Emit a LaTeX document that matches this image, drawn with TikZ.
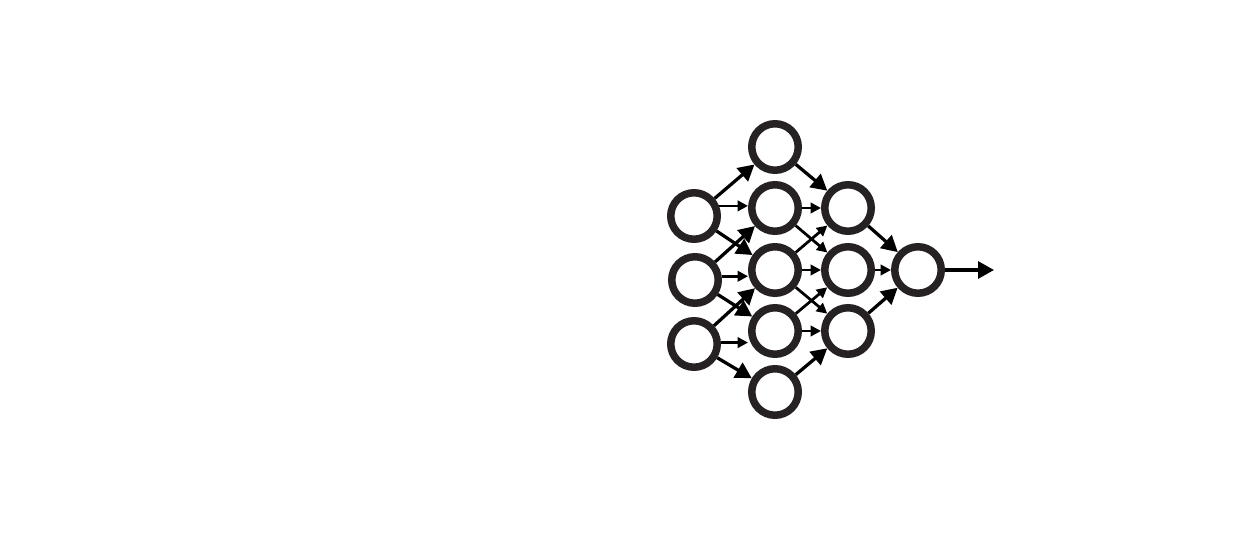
\documentclass[tikz,border=0pt]{standalone}
\usepackage{tikz}
\usetikzlibrary{arrows.meta,positioning}

\definecolor{ringcol}{RGB}{38,33,34}

\begin{document}
\begin{tikzpicture}[
  x=0.02cm, y=-0.02cm,
  neuron/.style={circle, draw=ringcol, line width=0.15cm, fill=white,
    minimum size=0.93cm, inner sep=0pt, outer sep=0.075cm},
  link/.style={line width=0.065cm, -{Triangle[length=3.2mm, width=3.4mm]}},
  short/.style={line width=0.055cm, -{Triangle[length=2.1mm, width=2.1mm]}},
]
  \useasboundingbox (0,0) rectangle (1237,553);
  % Input layer
  \node[neuron] (i1) at (694,216) {};
  \node[neuron] (i2) at (695,280) {};
  \node[neuron] (i3) at (694,344) {};
  % First hidden layer
  \node[neuron] (h1) at (775,147) {};
  \node[neuron] (h2) at (775,208) {};
  \node[neuron] (h3) at (775,270) {};
  \node[neuron] (h4) at (775,331) {};
  \node[neuron] (h5) at (775,392) {};
  % Second hidden layer
  \node[neuron] (g1) at (848,208) {};
  \node[neuron] (g2) at (848,270) {};
  \node[neuron] (g3) at (848,331) {};
  % Output neuron
  \node[neuron] (o) at (918,270) {};
  \coordinate (out) at (994,270);
  % Input -> first hidden
  \draw[link] (i1) -- (h1);
  \draw[short] (i1.22) -- (i1.22 -| h2.west);
  \draw[link] (i1) -- (h3);
  \draw[link] (i2) -- (h2);
  \draw[short] (i2.8) -- (i2.8 -| h3.west);
  \draw[link] (i2) -- (h4);
  \draw[link] (i3) -- (h3);
  \draw[short] (i3.3) -- (i3.3 -| h4.west);
  \draw[link] (i3) -- (h5);
  % First hidden -> second hidden
  \draw[link] (h1) -- (g1);
  \draw[short] (h2) -- (g1);
  \draw[short] (h2) -- (g2);
  \draw[short] (h3) -- (g1);
  \draw[short] (h3) -- (g2);
  \draw[short] (h3) -- (g3);
  \draw[short] (h4) -- (g2);
  \draw[short] (h4) -- (g3);
  \draw[link] (h5) -- (g3);
  % Second hidden -> output
  \draw[link] (g1) -- (o);
  \draw[short] (g2) -- (o);
  \draw[link] (g3) -- (o);
  \draw[link] (o) -- (out);
\end{tikzpicture}
\end{document}
